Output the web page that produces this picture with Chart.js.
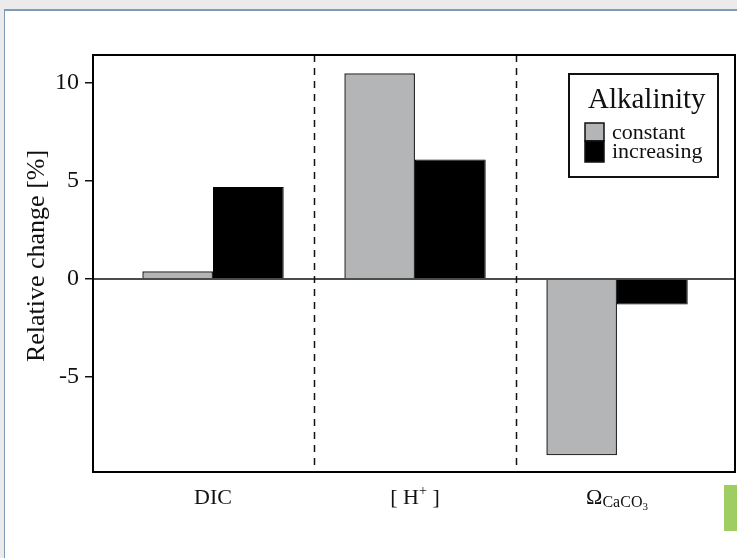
<!DOCTYPE html>
<html>
<head>
<meta charset="utf-8">
<script src="https://cdn.jsdelivr.net/npm/chart.js@4.4.1/dist/chart.umd.min.js"></script>
<style>
  html, body { margin: 0; padding: 0; background: #ebebeb; width: 737px; height: 558px; overflow: hidden; }
  #panel { position: absolute; left: 4px; top: 9px; width: 760px; height: 600px; background: #fff;
           border-top: 2px solid #7d9bb6; border-left: 1px solid #7d9bb6; }
  #tab { position: absolute; left: 724px; top: 485px; width: 14px; height: 46px; background: #9fcd62; }
  #wrap { position: absolute; left: 0; top: 0; width: 737px; height: 558px; }
</style>
</head>
<body>
<div id="panel"></div>
<div id="tab"></div>
<div id="wrap"><canvas id="c"></canvas></div>
<script>
// Relative change of carbonate system quantities under two alkalinity scenarios
const categories = ['DIC', '[ H+ ]', 'ΩCaCO3'];
const seriesNames = ['constant', 'increasing'];
const constantAlk = [0.4, 10.5, -9.0];
const increasingAlk = [4.7, 6.1, -1.3];
const yTicks = [-5, 0, 5, 10];
const legendTitle = 'Alkalinity';
const yTitle = 'Relative change [%]';

// Rich-text pieces for each category label (superscripts / subscripts)
const categoryParts = [
  [{ t: 'DIC' }],
  [{ t: '[ H' }, { t: '+', lvl: 'sup' }, { t: ' ]' }],
  [{ t: 'Ω' }, { t: 'CaCO', lvl: 'sub' }, { t: '3', lvl: 'sub2' }]
];

const SERIF = '"Liberation Serif", "Times New Roman", serif';
const levelStyle = {
  base: { size: 22, dy: 0 },
  sup:  { size: 14, dy: -9 },
  sub:  { size: 16, dy: 3 },
  sub2: { size: 11, dy: 6 }
};

function drawRich(ctx, parts, cx, baseline) {
  let total = 0;
  const widths = parts.map(p => {
    const st = levelStyle[p.lvl || 'base'];
    ctx.font = st.size + 'px ' + SERIF;
    const w = ctx.measureText(p.t).width;
    total += w;
    return w;
  });
  let x = cx - total / 2;
  ctx.textAlign = 'left';
  ctx.textBaseline = 'alphabetic';
  parts.forEach((p, i) => {
    const st = levelStyle[p.lvl || 'base'];
    ctx.font = st.size + 'px ' + SERIF;
    ctx.fillText(p.t, x, baseline + st.dy);
    x += widths[i];
  });
}

const decorations = {
  id: 'decorations',
  beforeDatasetsDraw(chart) {
    const { ctx, chartArea: a, scales: { x } } = chart;
    ctx.save();
    ctx.strokeStyle = '#111';
    ctx.lineWidth = 1.5;
    ctx.setLineDash([7, 6]);
    for (let i = 0; i < categories.length - 1; i++) {
      const px = Math.round(x.getPixelForValue(i + 0.5)) + 0.5;
      ctx.beginPath();
      ctx.moveTo(px, a.top);
      ctx.lineTo(px, a.bottom);
      ctx.stroke();
    }
    ctx.restore();
  },
  afterDatasetsDraw(chart) {
    const { ctx, chartArea: a, scales: { y } } = chart;
    ctx.save();
    ctx.strokeStyle = '#111';
    ctx.lineWidth = 1.5;
    const py = y.getPixelForValue(0);
    ctx.beginPath();
    ctx.moveTo(a.left, py);
    ctx.lineTo(a.right, py);
    ctx.stroke();
    ctx.lineWidth = 2;
    ctx.strokeStyle = '#000';
    ctx.strokeRect(a.left, a.top, a.right - a.left, a.bottom - a.top);
    ctx.restore();
  },
  afterDraw(chart) {
    const { ctx, chartArea: a, scales: { x } } = chart;
    ctx.save();
    ctx.fillStyle = '#111';

    // category labels below the axis
    categoryParts.forEach((parts, i) => {
      drawRich(ctx, parts, x.getPixelForValue(i), 504);
    });

    // vertical axis title
    ctx.save();
    ctx.translate(37, 256);
    ctx.rotate(-Math.PI / 2);
    ctx.font = '26px ' + SERIF;
    ctx.textAlign = 'center';
    ctx.textBaseline = 'middle';
    ctx.fillText(yTitle, 0, 0);
    ctx.restore();

    // legend box
    const lx = 569, ly = 74, lw = 149, lh = 103;
    ctx.fillStyle = '#fff';
    ctx.fillRect(lx, ly, lw, lh);
    ctx.strokeStyle = '#111';
    ctx.lineWidth = 2;
    ctx.strokeRect(lx, ly, lw, lh);
    ctx.fillStyle = '#111';
    ctx.font = '29px ' + SERIF;
    ctx.textAlign = 'left';
    ctx.textBaseline = 'alphabetic';
    ctx.fillText(legendTitle, 588, 108);

    const ds = chart.data.datasets;
    const swY = [123, 141];
    const txtY = [139, 158];
    ds.forEach((d, i) => {
      ctx.fillStyle = d.backgroundColor;
      ctx.fillRect(585, swY[i], 19, i === 0 ? 18 : 21);
      ctx.strokeStyle = '#111';
      ctx.lineWidth = 1.5;
      ctx.strokeRect(585, swY[i], 19, i === 0 ? 18 : 21);
      ctx.fillStyle = '#111';
      ctx.font = '22px ' + SERIF;
      ctx.fillText(d.label, 612, txtY[i]);
    });
    ctx.restore();
  }
};

new Chart(document.getElementById('c'), {
  type: 'bar',
  data: {
    datasets: [
      {
        label: seriesNames[0],
        data: constantAlk.map((v, i) => ({ x: i, y: v })),
        backgroundColor: '#b3b5b6',
        borderColor: '#2a2a2a',
        borderWidth: 1.5,
        categoryPercentage: 0.7,
        barPercentage: 1
      },
      {
        label: seriesNames[1],
        data: increasingAlk.map((v, i) => ({ x: i, y: v })),
        backgroundColor: '#000000',
        borderColor: '#000000',
        borderWidth: 1,
        categoryPercentage: 0.7,
        barPercentage: 1
      }
    ]
  },
  options: {
    responsive: true,
    maintainAspectRatio: false,
    animation: false,
    layout: { padding: { top: 55, right: 2, left: 0, bottom: 0 } },
    plugins: { legend: { display: false }, tooltip: { enabled: false } },
    scales: {
      x: {
        type: 'linear',
        offset: false,
        min: -0.594,
        max: 2.584,
        afterBuildTicks: s => { s.ticks = categories.map((c, i) => ({ value: i })); },
        afterFit: s => { s.height = 86; },
        ticks: { display: false },
        grid: { display: false },
        border: { display: false }
      },
      y: {
        min: -9.85,
        max: 11.43,
        afterBuildTicks: s => { s.ticks = yTicks.map(v => ({ value: v })); },
        afterFit: s => { s.width = 93; },
        ticks: { font: { family: SERIF, size: 24 }, color: '#111', padding: 6 },
        grid: { drawOnChartArea: false, drawTicks: true, tickLength: 8, tickColor: '#111', lineWidth: 1.5 },
        border: { display: true, color: '#000', width: 2 }
      }
    }
  },
  plugins: [decorations]
});
</script>
</body>
</html>
